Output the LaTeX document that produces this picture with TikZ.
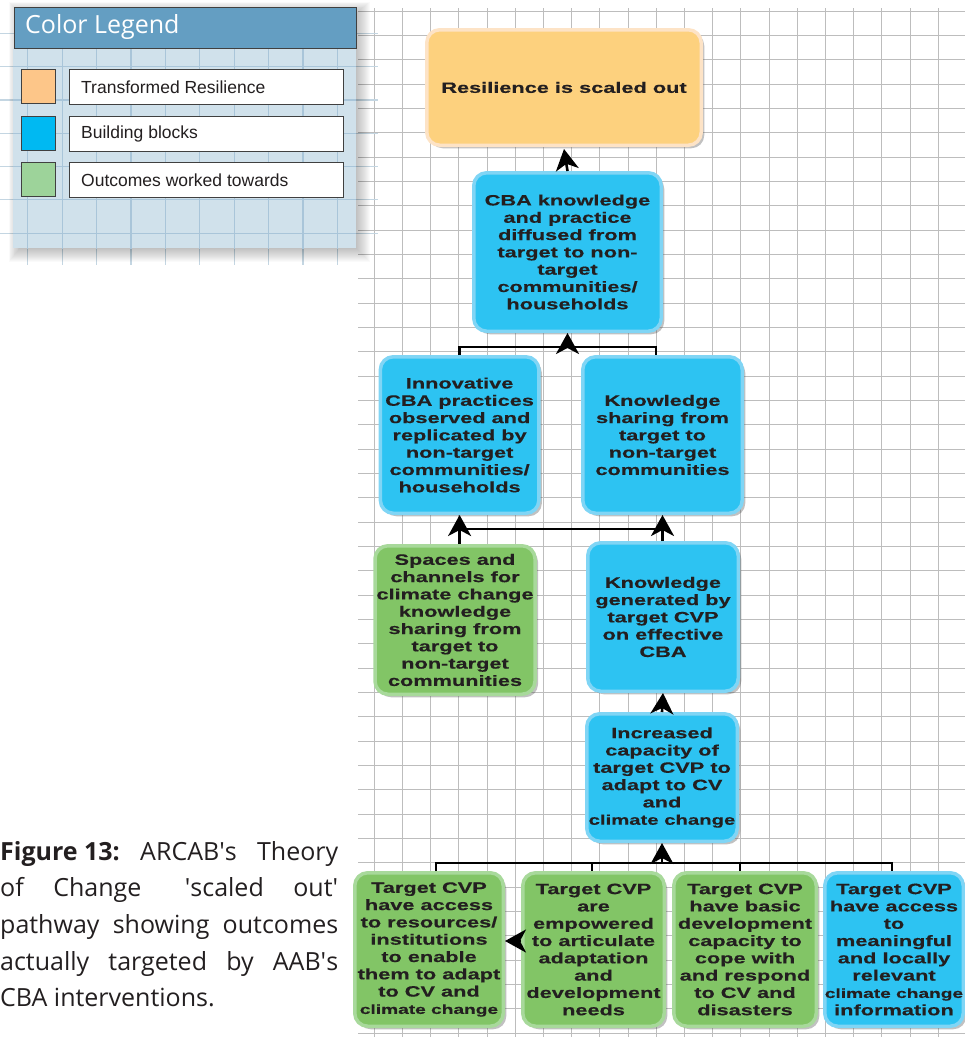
\documentclass[tikz,border=0pt]{standalone}
\usepackage{fontspec}
\setmainfont{Liberation Sans}
\newfontfamily\boxfont{Liberation Sans}[FakeStretch=1.45,FakeBold=0.4]
\newfontfamily\capfont{Open Sans}
\newfontfamily\legfont{Liberation Sans}
\usetikzlibrary{arrows.meta,shadows}
\definecolor{txt}{HTML}{231F20}
\definecolor{orfill}{HTML}{FDD17E}
\definecolor{ordraw}{HTML}{FDE3C6}
\definecolor{cyfill}{HTML}{2DC3F2}
\definecolor{cydraw}{HTML}{80D5F5}
\definecolor{grfill}{HTML}{82C566}
\definecolor{grdraw}{HTML}{A8D99B}
\definecolor{gridc}{HTML}{BDBDBD}
\definecolor{lgbody}{HTML}{D0E1EB}
\definecolor{lggrid}{HTML}{A9C5D9}
\definecolor{lgout}{HTML}{C4D6E2}
\definecolor{lgtitle}{HTML}{649EC2}
\definecolor{swor}{HTML}{FDC689}
\definecolor{swcy}{HTML}{00B9F2}
\definecolor{swgr}{HTML}{9DD39A}
\begin{document}
\begin{tikzpicture}[x=1pt,y=-1pt,
  blk/.style={draw, line width=3.5pt, rounded corners=13pt, align=center, inner sep=0pt,
    text=txt, font=\boxfont\bfseries\fontsize{15}{17.3}\selectfont,
    drop shadow={shadow xshift=3pt,shadow yshift=-3pt,opacity=0.35,fill=black!70}},
  orb/.style={blk, fill=orfill, draw=ordraw},
  cyb/.style={blk, fill=cyfill, draw=cydraw},
  grb/.style={blk, fill=grfill, draw=grdraw},
  arr/.style={line width=2.6pt, -{Stealth[length=21pt,width=23pt,inset=6pt]}},
  lnk/.style={line width=2.6pt},
  gline/.style={gridc, line width=1.1pt},
  lgline/.style={lggrid, line width=1.2pt},
  lgoline/.style={lgout, line width=1.2pt},
  swatch/.style={draw=black!75, line width=1pt, minimum size=34pt, anchor=north west, inner sep=0pt},
  lbox/.style={draw=black!75, line width=1pt, fill=white, minimum width=274pt, minimum height=35pt, anchor=north west, inner sep=0pt},
  ltext/.style={anchor=west, inner sep=0pt, text=txt, font=\legfont\fontsize{17.5}{20}\selectfont},
  capline/.style={anchor=base west, inner sep=0pt, text=txt, font=\capfont\fontsize{25}{30}\selectfont}
]
\useasboundingbox (0,0) rectangle (965,1037);

% main grid
\foreach \k in {0,...,20} \draw[gline] ({374.3+28.2*\k},8) -- ({374.3+28.2*\k},1037);
\foreach \k in {0,...,42} \draw[gline] (358,{11.2+24.33*\k}) -- (965,{11.2+24.33*\k});

% legend grid outside the box (faint)
\foreach \k in {0,...,9} \draw[lgoline] ({27.7+34.4*\k},48) -- ({27.7+34.4*\k},265);
\foreach \k in {1,...,7} \draw[lgoline] (0,{33.3*\k}) -- (378,{33.3*\k});

% legend shadow
\foreach \i in {1,...,14} \fill[black,opacity=0.02] ({13+7-\i*0.8},{6+7-\i*0.8}) rectangle ({356+\i},{248+\i});
\fill[lgbody] (13,48) rectangle (356,248);
\begin{scope}
\clip (13,48) rectangle (356,248);
\foreach \k in {0,...,9} \draw[lgline] ({27.7+34.4*\k},48) -- ({27.7+34.4*\k},265);
\foreach \k in {1,...,7} \draw[lgline] (0,{33.3*\k}) -- (378,{33.3*\k});
\end{scope}

% legend title
\node[fill=lgtitle, draw=black!75, line width=1pt, minimum width=342pt, minimum height=41pt, anchor=north west, inner sep=0pt] (lgt) at (13.5,6.5) {};
\node[anchor=west, inner sep=0pt, text=white, font=\capfont\fontsize{25}{30}\selectfont] (lgtext) at (25,27) {Color Legend};

% legend entries
\node[swatch, fill=swor] (sw1) at (21,69) {};
\node[swatch, fill=swcy] (sw2) at (21,116) {};
\node[swatch, fill=swgr] (sw3) at (21,162) {};
\node[lbox] (lb1) at (69,69) {};
\node[lbox] (lb2) at (69,116) {};
\node[lbox] (lb3) at (69,162) {};
\node[ltext] (lt1) at (81,87) {Transformed Resilience};
\node[ltext] (lt2) at (81,134) {Building blocks};
\node[ltext] (lt3) at (81,180) {Outcomes worked towards};

% boxes
\node[orb, minimum width=274.5pt, minimum height=115.5pt] (b1) at (564,87.5) {\raisebox{-3pt}{Resilience is scaled out}};
\node[cyb, minimum width=187.5pt, minimum height=158.5pt] (b2) at (567.5,252)
  {CBA knowledge\\and practice\\diffused from\\target to non-\\target\\communities/\\households};
\node[cyb, minimum width=158.5pt, minimum height=156.5pt] (b3) at (459.6,435)
  {Innovative\\CBA practices\\observed and\\replicated by\\non-target\\communities/\\households};
\node[cyb, minimum width=159.5pt, minimum height=156.5pt] (b4) at (662.5,435)
  {Knowledge\\sharing from\\target to\\non-target\\communities};
\node[grb, minimum width=160pt, minimum height=148.5pt] (b5) at (455,620)
  {Spaces and\\channels for\\climate change\\knowledge\\sharing from\\target to\\non-target\\communities};
\node[cyb, minimum width=150.5pt, minimum height=148.5pt] (b6) at (663,617)
  {Knowledge\\generated by\\target CVP\\on effective\\CBA};
\node[cyb, minimum width=150.5pt, minimum height=127.5pt] (b7) at (662,777.5)
  {Increased\\capacity of\\target CVP to\\adapt to CV\\and\\{\fontsize{14}{17.3}\selectfont climate change}};
\node[grb, minimum width=148.5pt, minimum height=153.5pt] (b8) at (429,949.5)
  {Target CVP\\have access\\to resources/\\institutions\\to enable\\them to adapt\\to CV and\\{\fontsize{13.2}{17.3}\selectfont climate change}};
\node[grb, minimum width=141.5pt, minimum height=153.5pt] (b9) at (593.5,949.5)
  {Target CVP\\are\\empowered\\to articulate\\adaptation\\and\\development\\needs};
\node[grb, minimum width=142.5pt, minimum height=153.5pt] (b10) at (745,949.5)
  {Target CVP\\have basic\\development\\capacity to\\cope with\\and respond\\to CV and\\disasters};
\node[cyb, minimum width=138.5pt, minimum height=153.5pt] (b11) at (894,949.5)
  {Target CVP\\have access\\to\\meaningful\\and locally\\relevant\\{\fontsize{13.2}{17.3}\selectfont climate change}\\information};

% connectors
\draw[arr] (b2.north) -- ([yshift=-2pt]b1.south);
\coordinate (t1) at (459.6,347);
\coordinate (t2) at (656,347);
\coordinate (t3) at (567.5,347);
\draw[lnk] (b3.north) -- (t1) -- (t2) -- (t2 |- b4.north);
\draw[arr] (t3) -- (b2.south);
\coordinate (m1) at (459.6,529);
\coordinate (m2) at (662.5,529);
\draw[lnk] (m1) -- (m2);
\draw[arr] (b5.north -| b3.south) -- (b3.south);
\draw[arr] (b6.north -| b4.south) -- (b4.south);
\draw[arr] (b7.north) -- (b6.south);
\coordinate (h8) at (436,863);
\coordinate (h9) at (592,863);
\coordinate (h10) at (740,863);
\coordinate (h11) at (892,863);
\draw[lnk] (h8 |- b8.north) -- (h8) -- (h11) -- (h11 |- b11.north);
\draw[lnk] (h9) -- (h9 |- b9.north);
\draw[lnk] (h10) -- (h10 |- b10.north);
\draw[arr] (h8 -| b7.south) -- (b7.south);
\draw[arr] ([yshift=8.5pt]b9.west) -- ([yshift=8.5pt]b8.east);

% caption
\node[capline] (cap1) at (0,860) {\makebox[338pt][s]{\textbf{\mbox{Figure 13:}} ARCAB\textquotesingle s Theory}};
\node[capline] (cap2) at (0,896.7) {\makebox[338pt][s]{of Change\hspace{14pt} \textquotesingle scaled out\textquotesingle}};
\node[capline] (cap3) at (0,933.3) {\makebox[338pt][s]{pathway showing outcomes}};
\node[capline] (cap4) at (0,970) {\makebox[338pt][s]{actually targeted by AAB\textquotesingle s}};
\node[capline] (cap5) at (0,1006.7) {CBA interventions.};
\end{tikzpicture}
\end{document}
